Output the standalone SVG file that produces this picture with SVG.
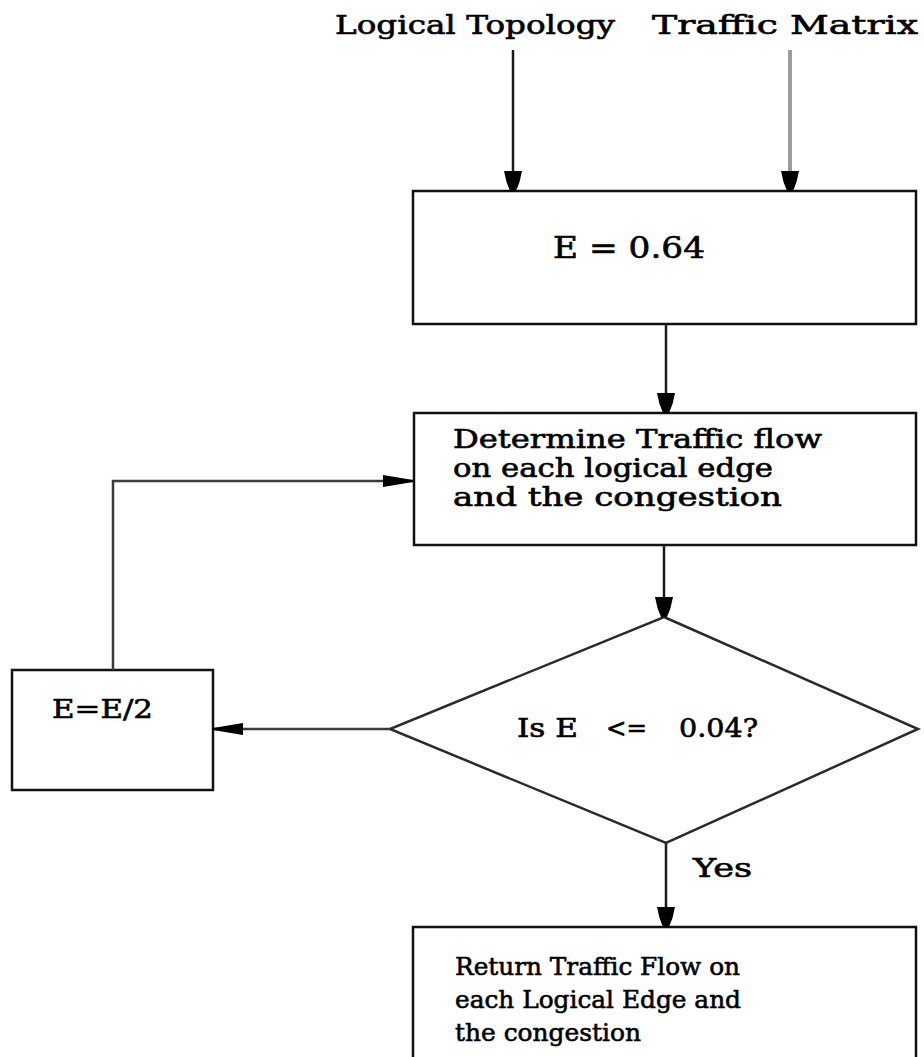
<svg xmlns="http://www.w3.org/2000/svg" width="924" height="1057" viewBox="0 0 924 1057">
  <style>
    .box { fill: #ffffff; stroke: #111111; stroke-width: 2.5; }
    .lbl { font-family: "DejaVu Serif", "Liberation Serif", serif; font-size: 26px; fill: #000000; stroke: #000000; stroke-width: 0.6; }
    .small { font-size: 25px; }
    .big { font-size: 29px; }
    .wire { fill: none; stroke: #1a1a1a; stroke-width: 2.5; }
    .wire-grey { fill: none; stroke: #9c9c9c; stroke-width: 4; }
    .wire-soft { fill: none; stroke: #3a3a3a; stroke-width: 2.5; }
  </style>
  <defs>
    <!-- stubby head used on the vertical flow lines -->
    <marker id="headV" markerUnits="userSpaceOnUse" markerWidth="20" markerHeight="18" refX="20" refY="9" orient="auto" overflow="visible">
      <path d="M0,0 L11,2.5 L20,6 L20,12 L11,15.5 L0,18 Z" fill="#000000"/>
    </marker>
    <!-- long thin head used on the horizontal lines -->
    <marker id="headH" markerUnits="userSpaceOnUse" markerWidth="30" markerHeight="12" refX="30" refY="6" orient="auto" overflow="visible">
      <path d="M0,0 L30,5 L30,7 L0,12 Z" fill="#000000"/>
    </marker>
  </defs>

  <rect width="924" height="1057" fill="#ffffff"/>

  <!-- input labels -->
  <g id="input-topology">
    <text class="lbl" x="335" y="34" textLength="280" lengthAdjust="spacingAndGlyphs">Logical Topology</text>
  </g>
  <g id="input-traffic">
    <text class="lbl" x="652" y="34" textLength="266" lengthAdjust="spacingAndGlyphs">Traffic Matrix</text>
  </g>

  <g id="init-e">
    <rect class="box" x="413" y="191" width="503" height="133"/>
    <text class="lbl big" x="553" y="258" textLength="152" lengthAdjust="spacingAndGlyphs">E = 0.64</text>
  </g>

  <g id="determine-flow">
    <rect class="box" x="414" y="413" width="502" height="132"/>
    <text class="lbl" x="453" y="448" textLength="369" lengthAdjust="spacingAndGlyphs">Determine Traffic flow</text>
    <text class="lbl" x="453" y="477" textLength="320" lengthAdjust="spacingAndGlyphs">on each logical edge</text>
    <text class="lbl" x="453" y="506" textLength="329" lengthAdjust="spacingAndGlyphs">and the congestion</text>
  </g>

  <g id="check-e">
    <polygon points="664,617 918,729 666,843 390,729" fill="#ffffff" stroke="#2a2a2a" stroke-width="2.5"/>
    <text class="lbl" x="517" y="737" textLength="61" lengthAdjust="spacingAndGlyphs">Is E</text>
    <text class="lbl" x="606" y="737" textLength="41" lengthAdjust="spacingAndGlyphs">&lt;=</text>
    <text class="lbl" x="679" y="737" textLength="79" lengthAdjust="spacingAndGlyphs">0.04?</text>
  </g>

  <g id="halve-e">
    <rect class="box" x="12" y="670" width="201" height="120"/>
    <text class="lbl" x="52" y="718" textLength="101" lengthAdjust="spacingAndGlyphs">E=E/2</text>
  </g>

  <g id="return-flow">
    <rect class="box" x="413" y="927" width="503" height="160"/>
    <text class="lbl small" x="455" y="975" textLength="285" lengthAdjust="spacingAndGlyphs">Return Traffic Flow on</text>
    <text class="lbl small" x="455" y="1008" textLength="286" lengthAdjust="spacingAndGlyphs">each Logical Edge and</text>
    <text class="lbl small" x="455" y="1041" textLength="186" lengthAdjust="spacingAndGlyphs">the congestion</text>
  </g>

  <g id="connectors">
    <line class="wire" x1="513" y1="50" x2="513" y2="191" marker-end="url(#headV)"/>
    <line class="wire-grey" x1="790" y1="50" x2="790" y2="191" marker-end="url(#headV)"/>
    <line class="wire" x1="666" y1="324" x2="666" y2="413" marker-end="url(#headV)"/>
    <line class="wire" x1="664" y1="545" x2="664" y2="617" marker-end="url(#headV)"/>
    <line class="wire" x1="666" y1="843" x2="666" y2="927" marker-end="url(#headV)"/>
    <line class="wire-soft" x1="390" y1="729" x2="213" y2="729" marker-end="url(#headH)"/>
    <polyline class="wire-soft" points="113,670 113,481 413,481" marker-end="url(#headH)"/>
    <text class="lbl" x="693" y="877" textLength="59" lengthAdjust="spacingAndGlyphs">Yes</text>
  </g>
</svg>
